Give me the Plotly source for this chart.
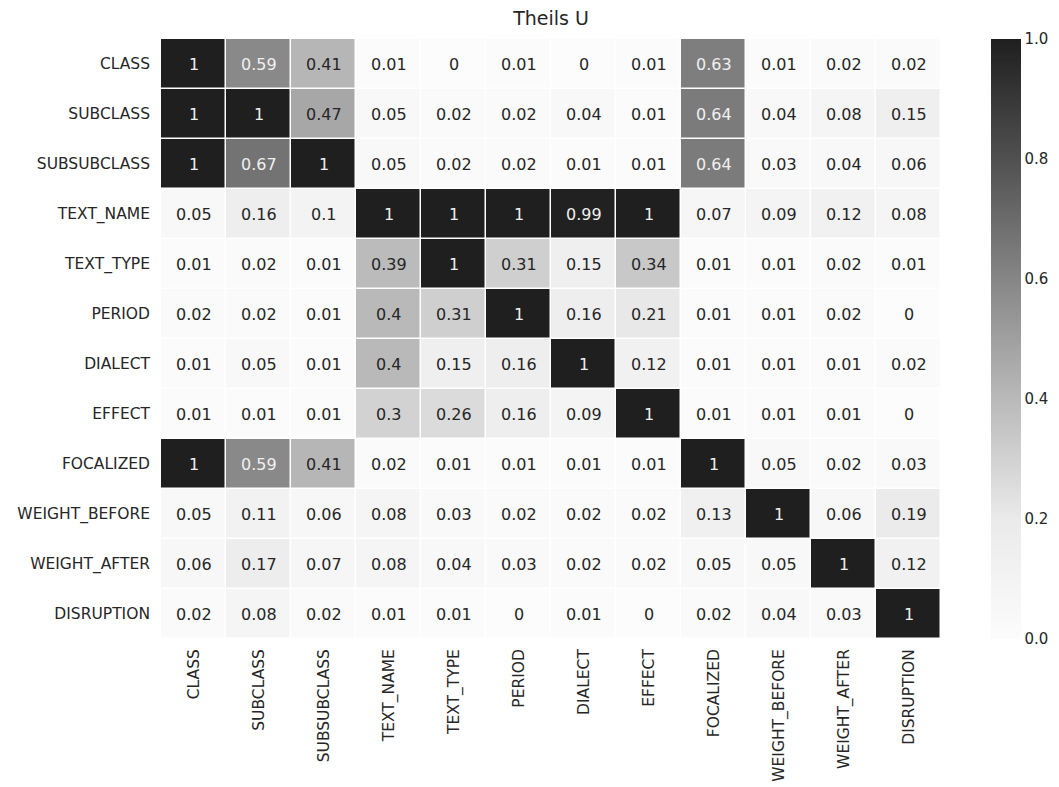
import plotly.graph_objects as go

labels = ["CLASS", "SUBCLASS", "SUBSUBCLASS", "TEXT_NAME", "TEXT_TYPE", "PERIOD",
          "DIALECT", "EFFECT", "FOCALIZED", "WEIGHT_BEFORE", "WEIGHT_AFTER", "DISRUPTION"]

row_class = [1, 0.59, 0.41, 0.01, 0, 0.01, 0, 0.01, 0.63, 0.01, 0.02, 0.02]
row_subclass = [1, 1, 0.47, 0.05, 0.02, 0.02, 0.04, 0.01, 0.64, 0.04, 0.08, 0.15]
row_subsubclass = [1, 0.67, 1, 0.05, 0.02, 0.02, 0.01, 0.01, 0.64, 0.03, 0.04, 0.06]
row_text_name = [0.05, 0.16, 0.1, 1, 1, 1, 0.99, 1, 0.07, 0.09, 0.12, 0.08]
row_text_type = [0.01, 0.02, 0.01, 0.39, 1, 0.31, 0.15, 0.34, 0.01, 0.01, 0.02, 0.01]
row_period = [0.02, 0.02, 0.01, 0.4, 0.31, 1, 0.16, 0.21, 0.01, 0.01, 0.02, 0]
row_dialect = [0.01, 0.05, 0.01, 0.4, 0.15, 0.16, 1, 0.12, 0.01, 0.01, 0.01, 0.02]
row_effect = [0.01, 0.01, 0.01, 0.3, 0.26, 0.16, 0.09, 1, 0.01, 0.01, 0.01, 0]
row_focalized = [1, 0.59, 0.41, 0.02, 0.01, 0.01, 0.01, 0.01, 1, 0.05, 0.02, 0.03]
row_weight_before = [0.05, 0.11, 0.06, 0.08, 0.03, 0.02, 0.02, 0.02, 0.13, 1, 0.06, 0.19]
row_weight_after = [0.06, 0.17, 0.07, 0.08, 0.04, 0.03, 0.02, 0.02, 0.05, 0.05, 1, 0.12]
row_disruption = [0.02, 0.08, 0.02, 0.01, 0.01, 0, 0.01, 0, 0.02, 0.04, 0.03, 1]

z = [row_class, row_subclass, row_subsubclass, row_text_name, row_text_type, row_period,
     row_dialect, row_effect, row_focalized, row_weight_before, row_weight_after, row_disruption]

colorscale = [[0, '#fcfcfc'], [0.2, '#eaeaea'], [0.4, '#b9b9b9'],
              [0.6, '#868686'], [0.8, '#505050'], [1, '#1f1f1f']]

font_family = "DejaVu Sans"
text_col = "#262626"

fig = go.Figure()
fig.add_trace(go.Heatmap(
    z=z, x=labels, y=labels, zmin=0, zmax=1, colorscale=colorscale,
    xgap=1.5, ygap=1.5, hoverongaps=False,
    colorbar=dict(
        x=1.064, xanchor="left", xref="paper", xpad=0, ypad=0,
        y=0.5, yanchor="middle", len=1.0,
        thickness=30, outlinewidth=0, ticks="", ticklen=0,
        tickvals=[0, 0.2, 0.4, 0.6, 0.8, 1.0],
        ticktext=["0.0", "0.2", "0.4", "0.6", "0.8", "1.0"],
        tickfont=dict(family=font_family, size=15, color=text_col),
    ),
))

annotations = []
for i, row in enumerate(z):
    for j, v in enumerate(row):
        txt = f"{v:g}" if v != int(v) else str(int(v))
        annotations.append(dict(
            x=labels[j], y=labels[i], xref="x", yref="y", text=txt, showarrow=False,
            font=dict(family=font_family, size=16,
                      color="#f0f0f0" if v >= 0.5 else text_col),
        ))

fig.update_layout(
    width=1051, height=779,
    margin=dict(l=153, r=118, t=31, b=148, autoexpand=False),
    paper_bgcolor="white", plot_bgcolor="white",
    title=dict(text="Theils U", x=0.5, xref="paper", xanchor="center",
               y=0.987, yref="container", yanchor="middle",
               font=dict(family=font_family, size=19, color=text_col)),
    xaxis=dict(tickangle=-90, showgrid=False, zeroline=False, ticks="",
               ticklabelstandoff=6,
               tickfont=dict(family=font_family, size=15.5, color=text_col)),
    yaxis=dict(autorange="reversed", showgrid=False, zeroline=False, ticks="",
               ticklabelstandoff=10,
               tickfont=dict(family=font_family, size=15.5, color=text_col)),
    annotations=annotations,
)

fig.write_html("out.html")
